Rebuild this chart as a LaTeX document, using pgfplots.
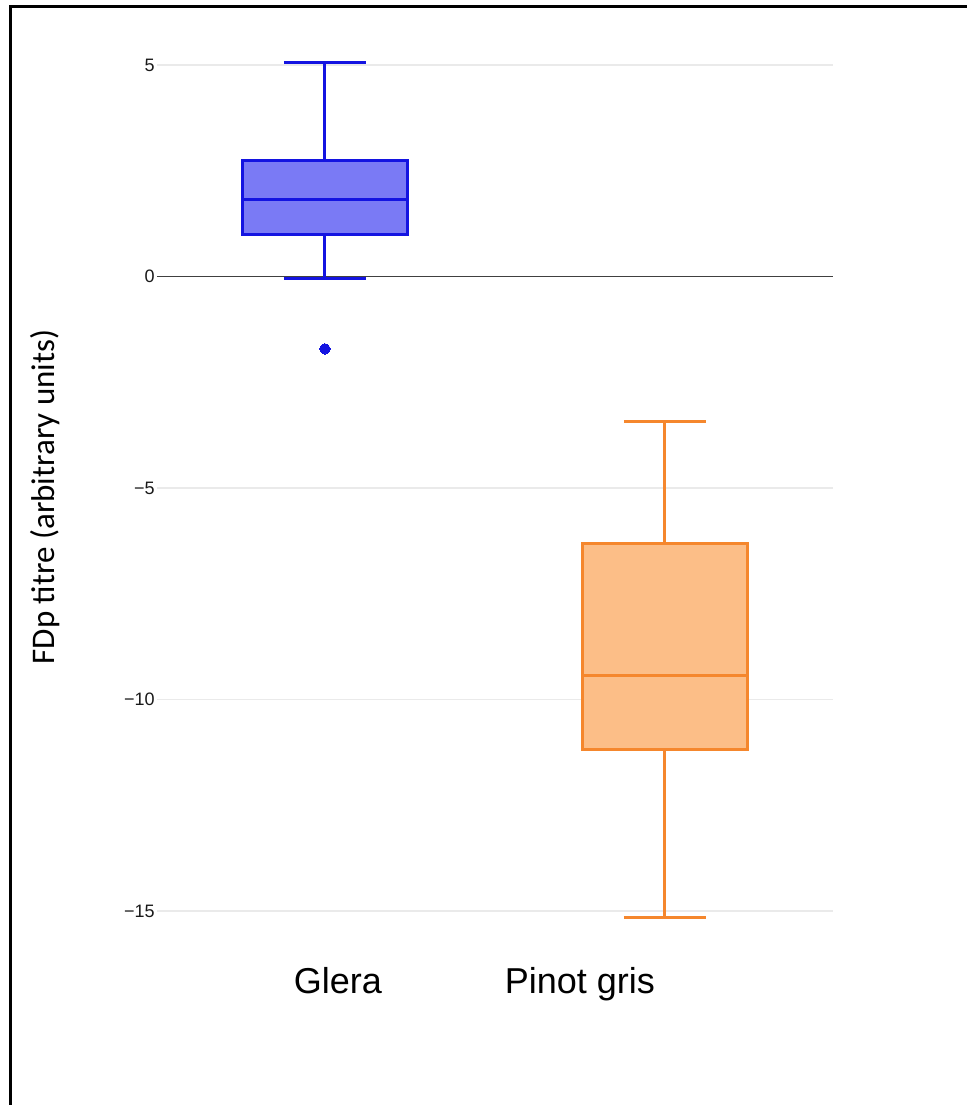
\documentclass[border=0pt]{standalone}
\usepackage{fontspec}
\setmainfont{Liberation Sans}
\newfontfamily\calibri{Carlito}
\usepackage{pgfplots}
\pgfplotsset{compat=1.18}
\usepgfplotslibrary{statistics}

\definecolor{gleraedge}{RGB}{20,20,225}
\definecolor{glerafill}{RGB}{122,122,245}
\definecolor{pinotedge}{RGB}{245,135,45}
\definecolor{pinotfill}{RGB}{252,190,135}
\definecolor{gridgray}{RGB}{234,234,234}

\begin{document}
\begin{tikzpicture}
% page area and frame
\useasboundingbox (0,0) rectangle (483.5pt,552.5pt);
\draw[line width=1.5pt] (5.25pt,0) -- (5.25pt,549.3pt) -- (483.5pt,549.3pt);
\begin{axis}[
  at={(78.5pt,84.3pt)}, anchor=south west,
  x=170pt, y=21.15pt,
  xmin=0.506, xmax=2.494, ymin=-15.6, ymax=5.4,
  axis line style={draw=none},
  major tick length=0pt,
  ytick={-15,-10,-5,0,5},
  yticklabels={−15,−10,−5,0,5},
  yticklabel style={font=\fontsize{9}{10}\selectfont, text=black!90, inner sep=1pt},
  ymajorgrids, grid style={gridgray, line width=0.75pt},
  xtick={1.038,1.75},
  xticklabels={Glera,Pinot gris},
  xticklabel style={font=\fontsize{18}{21}\selectfont, anchor=base, yshift=-28.3pt},
  every axis y label/.style={at={(axis description cs:-0.1657,0.4947)}, rotate=90, anchor=center},
  ylabel={\calibri\fontsize{16.5}{19}\selectfont FDp titre (arbitrary units)},
  boxplot/draw direction=y,
  clip=false,
]
% zero reference line
\addplot[black!75, line width=0.6pt] coordinates {(0.506,0) (2.494,0)};

% Glera
\addplot[draw=gleraedge, line width=1.5pt, solid,
  mark=*, mark size=2.6pt, mark options={draw=gleraedge, fill=gleraedge, line width=0pt},
  boxplot/every box/.style={draw=gleraedge, fill=glerafill},
  boxplot/every median/.style={draw=gleraedge},
  boxplot prepared={draw position=1,
    lower whisker=-0.04, lower quartile=1.00, median=1.83,
    upper quartile=2.74, upper whisker=5.05,
    box extend=0.487, whisker extend=0.241}]
  table[row sep=\\, y index=0] {data\\ -1.71\\};

% Pinot gris
\addplot[draw=pinotedge, line width=1.5pt, solid,
  boxplot/every box/.style={draw=pinotedge, fill=pinotfill},
  boxplot/every median/.style={draw=pinotedge},
  boxplot prepared={draw position=2,
    lower whisker=-15.16, lower quartile=-11.19, median=-9.44,
    upper quartile=-6.31, upper whisker=-3.43,
    box extend=0.487, whisker extend=0.241}]
  table[row sep=\\, y index=0] {data\\};
\end{axis}
\end{tikzpicture}
\end{document}
